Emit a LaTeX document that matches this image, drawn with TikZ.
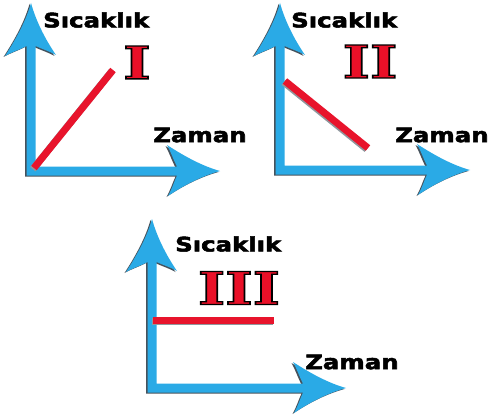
\documentclass[tikz,border=0pt]{standalone}
\usepackage{fontspec}
\newfontfamily\labfont{DejaVu Sans}
\newfontfamily\numfont{DejaVu Serif}
\definecolor{axblue}{HTML}{2AAAE6}
\definecolor{axshadow}{HTML}{46525C}
\definecolor{linered}{HTML}{E8142C}
\definecolor{numred}{HTML}{EA1028}
\tikzset{
  axfill/.style={fill=axblue},
  axshad/.style={fill=axshadow},
  redline/.style={draw=linered,line width=7pt,line cap=butt},
  redshad/.style={draw=axshadow!60,line width=7pt,line cap=butt},
  lab/.style={font=\labfont\bfseries\fontsize{20}{22}\selectfont,inner sep=0pt,anchor=west},
  numlab/.style={font=\numfont\bfseries\fontsize{45}{47}\selectfont,inner sep=0pt}
}
\newcommand\numtext[1]{\scalebox{1.3}[1]{\textcolor{numred}{\special{pdf:literal direct 2 Tr 1.3 w 0 0 0 RG}#1\special{pdf:literal direct 0 Tr}}}}
\newcommand\labtext[1]{\scalebox{1.22}[1]{\special{pdf:literal direct 2 Tr 0.5 w 0 0 0 RG}#1\special{pdf:literal direct 0 Tr}}}
% #1 ox, #2 oy, #3 top tip y, #4 right tip x
\newcommand\axpath[4]{%
  ({#1-4.5},{#2+4.5}) -- ({#1-4.5},{#3+43})
  .. controls ({#1-12},{#3+47}) and ({#1-19},{#3+49}) .. ({#1-26},{#3+53})
  .. controls ({#1-15},{#3+36}) and ({#1-5},{#3+18}) .. ({#1},{#3})
  .. controls ({#1+5},{#3+18}) and ({#1+14},{#3+36}) .. ({#1+25},{#3+52})
  .. controls ({#1+18},{#3+48}) and ({#1+11},{#3+46}) .. ({#1+4.5},{#3+43})
  -- ({#1+4.5},{#2-4.5}) -- ({#4-43},{#2-4.5})
  .. controls ({#4-47},{#2-12}) and ({#4-49},{#2-19}) .. ({#4-53},{#2-26})
  .. controls ({#4-36},{#2-15}) and ({#4-18},{#2-5}) .. ({#4},{#2})
  .. controls ({#4-18},{#2+5}) and ({#4-36},{#2+14}) .. ({#4-52},{#2+25})
  .. controls ({#4-48},{#2+18}) and ({#4-46},{#2+11}) .. ({#4-43},{#2+4.5})
  -- cycle}
\newcommand\drawaxes[4]{%
  \fill[axshad,shift={(-1.5pt,-1pt)}] \axpath{#1}{#2}{#3}{#4};
  \fill[axfill] \axpath{#1}{#2}{#3}{#4};
}
\begin{document}
\begin{tikzpicture}[x=1pt,y=-1pt]
\useasboundingbox (0,0) rectangle (489,417);
\fill[white] (0,0) rectangle (489,417);
% Panel I
\drawaxes{31}{171}{3}{220}
\coordinate (a1) at (34,168);
\coordinate (b1) at (113,70);
\draw[redshad] ([shift={(-1.2pt,-1.2pt)}]a1) -- ([shift={(-1.2pt,-1.2pt)}]b1);
\draw[redline] (a1) -- (b1);
\node[lab] (s1) at (43,20) {\labtext{Sıcaklık}};
\node[lab] (z1) at (153,135) {\labtext{Zaman}};
\node[numlab] (n1) at (137,62.5) {\numtext{I}};
% Panel II
\drawaxes{280}{170}{3}{470}
\coordinate (a2) at (285,81);
\coordinate (b2) at (368,148);
\draw[redshad] ([shift={(-1.2pt,-1.2pt)}]a2) -- ([shift={(-1.2pt,-1.2pt)}]b2);
\draw[redline] (a2) -- (b2);
\node[lab] (s2) at (291,20) {\labtext{Sıcaklık}};
\node[lab] (z2) at (395,135) {\labtext{Zaman}};
\node[numlab] (n2) at (370,61.5) {\numtext{II}};
% Panel III
\drawaxes{152}{388}{219}{346}
\coordinate (a3) at (153,320);
\coordinate (b3) at (274,320);
\draw[redshad] ([shift={(-1.2pt,-1.2pt)}]a3) -- ([shift={(-1.2pt,-1.2pt)}]b3);
\draw[redline] (a3) -- (b3);
\node[lab] (s3) at (175,244) {\labtext{Sıcaklık}};
\node[lab] (z3) at (305,362) {\labtext{Zaman}};
\node[numlab] (n3) at (239,288) {\numtext{III}};
\end{tikzpicture}
\end{document}
